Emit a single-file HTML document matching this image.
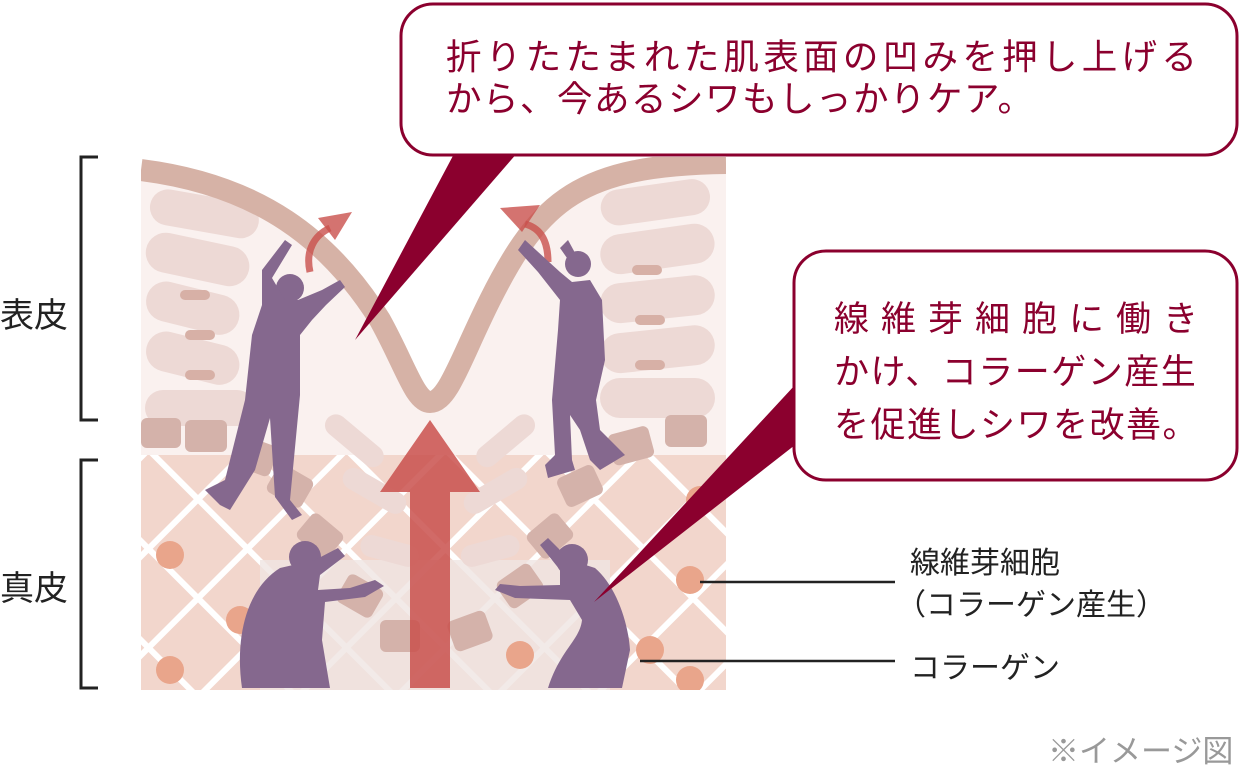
<!DOCTYPE html>
<html><head><meta charset="utf-8"><style>
body{margin:0;background:#fff;width:1248px;height:762px;overflow:hidden;position:relative;font-family:"Liberation Sans","Noto Sans CJK JP",sans-serif}
.t{position:absolute;white-space:nowrap}
</style></head><body>
<svg width="1248" height="762" style="position:absolute;left:0;top:0">
<defs>
<clipPath id="ill"><rect x="141" y="157" width="585" height="533"/></clipPath>
<pattern id="lat" width="70" height="70" patternUnits="userSpaceOnUse" patternTransform="rotate(45)">
<rect width="70" height="70" fill="#f2d6cc"/>
<rect x="0" y="0" width="70" height="6" fill="#fff"/>
<rect x="0" y="0" width="6" height="70" fill="#fff"/>
</pattern>
</defs>
<g clip-path="url(#ill)">
<rect x="141" y="157" width="585" height="533" fill="#fff"/>
<path d="M141 170 C 260 185, 330 240, 380 320 C 405 365, 415 402, 430 402 C 448 402, 460 360, 490 300 C 540 200, 580 165, 726 163 L726 690 L141 690 Z" fill="#faf1ef"/>
<rect x="141" y="455" width="585" height="235" fill="url(#lat)"/>
<rect x="260" y="560" width="350" height="130" fill="#efe5e2" opacity="0.8"/>
<g fill="#e9a58b">
<circle cx="170" cy="555" r="14"/><circle cx="240" cy="620" r="14"/><circle cx="170" cy="670" r="14"/>
<circle cx="690" cy="580" r="14"/><circle cx="650" cy="650" r="14"/><circle cx="700" cy="500" r="14"/><circle cx="520" cy="655" r="14"/><circle cx="690" cy="680" r="14"/>
</g>
<g fill="#edd9d5">
<rect x="150" y="195" width="110" height="36" rx="18" transform="rotate(10 200 210)"/>
<rect x="145" y="240" width="105" height="40" rx="20" transform="rotate(12 200 260)"/>
<rect x="145" y="290" width="95" height="40" rx="20" transform="rotate(14 200 310)"/>
<rect x="145" y="340" width="95" height="40" rx="20" transform="rotate(14 200 360)"/>
<rect x="145" y="390" width="110" height="36" rx="18"/>
<rect x="600" y="185" width="110" height="36" rx="18" transform="rotate(-8 650 200)"/>
<rect x="600" y="230" width="115" height="40" rx="20" transform="rotate(-8 650 250)"/>
<rect x="600" y="280" width="115" height="40" rx="20" transform="rotate(-6 650 300)"/>
<rect x="600" y="330" width="115" height="40" rx="20" transform="rotate(-6 650 350)"/>
<rect x="600" y="378" width="115" height="40" rx="20"/>
<rect x="320" y="430" width="70" height="22" rx="11" transform="rotate(40 355 440)"/>
<rect x="470" y="430" width="70" height="22" rx="11" transform="rotate(-40 505 440)"/>
<rect x="340" y="480" width="70" height="22" rx="11" transform="rotate(30 375 490)"/>
<rect x="460" y="480" width="70" height="22" rx="11" transform="rotate(-30 495 490)"/>
<rect x="360" y="540" width="60" height="22" rx="11" transform="rotate(15 390 550)"/>
<rect x="460" y="540" width="60" height="22" rx="11" transform="rotate(-15 490 550)"/>
</g>
<g fill="#d7b0a6">
<rect x="180" y="290" width="30" height="10" rx="5"/><rect x="185" y="330" width="30" height="10" rx="5"/><rect x="185" y="370" width="30" height="10" rx="5"/>
<rect x="632" y="265" width="30" height="10" rx="5"/><rect x="635" y="315" width="30" height="10" rx="5"/><rect x="635" y="360" width="30" height="10" rx="5"/>
</g>
<g fill="#d4b2aa">
<rect x="141" y="418" width="40" height="30" rx="6"/><rect x="185" y="420" width="42" height="32" rx="6"/>
<rect x="235" y="440" width="40" height="32" rx="6" transform="rotate(20 255 456)"/>
<rect x="270" y="470" width="40" height="32" rx="6" transform="rotate(30 290 486)"/>
<rect x="300" y="520" width="40" height="32" rx="6" transform="rotate(40 320 536)"/>
<rect x="340" y="580" width="40" height="32" rx="6" transform="rotate(30 360 596)"/>
<rect x="380" y="620" width="40" height="32" rx="6"/>
<rect x="450" y="615" width="40" height="32" rx="6" transform="rotate(-20 470 631)"/>
<rect x="500" y="570" width="40" height="32" rx="6" transform="rotate(-35 520 586)"/>
<rect x="530" y="520" width="40" height="32" rx="6" transform="rotate(-40 550 536)"/>
<rect x="560" y="470" width="40" height="32" rx="6" transform="rotate(-25 580 486)"/>
<rect x="610" y="430" width="42" height="32" rx="6" transform="rotate(-15 630 446)"/>
<rect x="665" y="415" width="42" height="32" rx="6"/>
</g>
<path d="M141 170 C 260 185, 330 240, 380 320 C 405 365, 415 402, 430 402 C 448 402, 460 360, 490 300 C 540 200, 580 165, 726 163" fill="none" stroke="#d6b2a6" stroke-width="22"/>
<path d="M380 492 L430 420 L480 492 L450 492 L450 688 L410 688 L410 492 Z" fill="#c9504c" opacity="0.85"/>
<path d="M310 272 C 305 250, 315 235, 330 228" fill="none" stroke="#c9504c" stroke-width="7" opacity="0.8"/>
<path d="M318 218 L352 212 L335 240 Z" fill="#c9504c" opacity="0.8"/>
<path d="M548 262 C 548 240, 540 228, 525 224" fill="none" stroke="#c9504c" stroke-width="7" opacity="0.8"/>
<path d="M500 208 L540 205 L522 232 Z" fill="#c9504c" opacity="0.8"/>
<g fill="#85688e">
<circle cx="290" cy="288" r="14"/>
<path d="M262 270 L285 240 L292 245 L272 278 L285 300 L298 300 L322 290 L340 280 L345 287 L326 305 L312 320 L300 335 L300 395 L290 500 L302 515 L292 520 L275 497 L270 418 L255 470 L230 510 L220 505 L205 490 L225 480 L245 400 L252 335 L262 305 Z"/>
<circle cx="578" cy="264" r="13"/>
<path d="M518 250 L525 240 L560 272 L572 282 L590 280 L602 300 L605 360 L596 400 L600 430 L625 455 L600 470 L590 460 L580 430 L570 415 L572 460 L575 470 L548 478 L545 465 L555 455 L552 400 L558 330 L560 300 L538 272 Z"/>
<path d="M560 248 L568 240 L580 262 L574 268 Z"/>
<circle cx="305" cy="557" r="16"/>
<path d="M242 688 C 235 640, 245 590, 280 568 L315 560 L338 548 L345 556 L320 575 L318 590 L350 588 L375 580 L384 586 L365 597 L325 602 L322 640 L330 688 Z"/>
<circle cx="572" cy="560" r="16"/>
<path d="M548 688 C 560 650, 580 640, 582 620 L570 600 L515 598 L495 590 L500 584 L520 586 L560 585 L560 570 L540 545 L548 538 L570 560 L595 568 C 615 585, 628 620, 630 650 L622 688 Z"/>
</g>
</g>
<g stroke="#222" stroke-width="3" fill="none">
<path d="M98 157 L81 157 L81 420 L98 420"/>
<path d="M98 460 L81 460 L81 688 L98 688"/>
<path d="M700 582 L895 582" stroke-width="2.5"/>
<path d="M640 661 L895 661" stroke-width="2.5"/>
</g>
<path d="M455 152 L518 152 L355 340 Z" fill="#8b002e"/>
<rect x="401" y="4" width="836" height="151" rx="32" fill="#fff" stroke="#8b002e" stroke-width="3"/>
<path d="M795 385 L795 445 L594 602 Z" fill="#8b002e"/>
<rect x="794" y="251" width="443" height="229" rx="32" fill="#fff" stroke="#8b002e" stroke-width="3"/>
</svg>
<div class="t" style="left:446px;top:36px;font-size:35.5px;color:#8b002e;line-height:42px"><span style="letter-spacing:4.3px">折りたたまれた肌表面の凹みを押し上げる</span><br><span style="letter-spacing:1.5px">から、今あるシワもしっかりケア。</span></div>
<div class="t" style="left:834px;top:293px;font-size:35px;color:#8b002e;line-height:53px"><span style="letter-spacing:12px">線維芽細胞に働き</span><br><span style="letter-spacing:1.5px">かけ、コラーゲン産生</span><br><span style="letter-spacing:1.5px">を促進しシワを改善。</span></div>
<div class="t" style="left:0px;top:288px;font-size:34px;color:#222">表皮</div>
<div class="t" style="left:0px;top:561px;font-size:34px;color:#222">真皮</div>
<div class="t" style="left:910px;top:543px;font-size:30px;color:#222;line-height:42px">線維芽細胞<br><span style="margin-left:-14px">（コラーゲン産生）</span></div>
<div class="t" style="left:910px;top:643px;font-size:30px;color:#222">コラーゲン</div>
<div class="t" style="left:1048px;top:726px;font-size:31px;color:#999">※イメージ図</div>
</body></html>
